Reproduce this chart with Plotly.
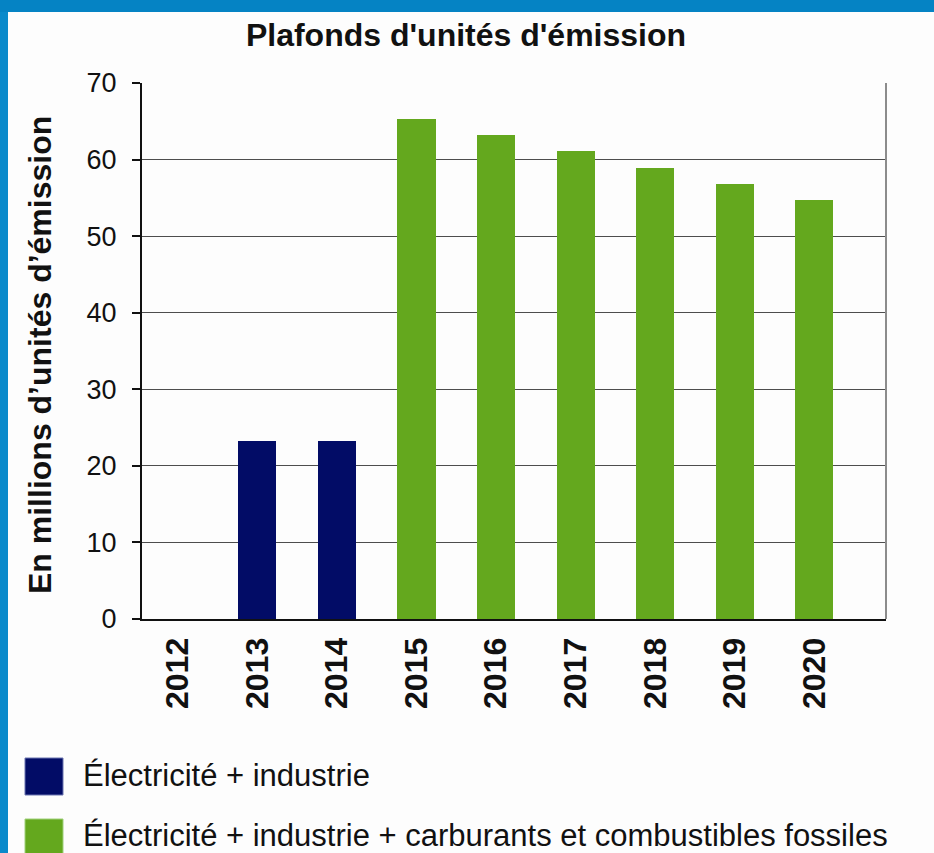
import plotly.graph_objects as go

years = [2012, 2013, 2014, 2015, 2016, 2017, 2018, 2019, 2020]
year_labels = [str(y) for y in years]
elec_industrie = [None, 23.2, 23.2, None, None, None, None, None, None]
elec_industrie_carb = [None, None, None, 65.3, 63.19, 61.08, 58.96, 56.85, 54.74]
series_names = ["Électricité + industrie",
                "Électricité + industrie + carburants et combustibles fossiles"]
y_ticks = [0, 10, 20, 30, 40, 50, 60, 70]

NAVY = "#020c66"
GREEN = "#64a81e"
FONT = "Liberation Sans, Arial, sans-serif"
TXT = "#111111"

W, H = 934, 853
L, R, T, B = 142, 48, 83, 234
pw, ph = W - L - R, H - T - B

def px(x):
    return (x - L) / pw

def py(y):
    return (H - B - y) / ph

fig = go.Figure()
fig.add_trace(go.Bar(x=years, y=elec_industrie, name=series_names[0],
                     marker=dict(color=NAVY, line=dict(width=0)), width=0.48,
                     showlegend=False))
fig.add_trace(go.Bar(x=years, y=elec_industrie_carb, name=series_names[1],
                     marker=dict(color=GREEN, line=dict(width=0)), width=0.48,
                     showlegend=False))

shapes = []
# blue frame
shapes.append(dict(type="rect", xref="paper", yref="paper", x0=px(0), x1=px(8), y0=py(H), y1=py(0),
                   fillcolor="#0a8acb", line=dict(width=0), layer="below"))
shapes.append(dict(type="rect", xref="paper", yref="paper", x0=px(0), x1=px(W), y0=py(12), y1=py(0),
                   fillcolor="#0583c4", line=dict(width=0), layer="below"))
# right border of plot
shapes.append(dict(type="line", xref="paper", yref="paper", x0=1, x1=1, y0=0, y1=1,
                   line=dict(color="#8c8c8c", width=2)))
# legend swatches
shapes.append(dict(type="rect", xref="paper", yref="paper", x0=px(25), x1=px(63), y0=py(795), y1=py(758),
                   fillcolor=NAVY, line=dict(color="#6a74b0", width=1)))
shapes.append(dict(type="rect", xref="paper", yref="paper", x0=px(25), x1=px(63), y0=py(857), y1=py(819),
                   fillcolor=GREEN, line=dict(color="#9fd07a", width=1)))

annotations = [
    dict(text=series_names[0], xref="paper", yref="paper", x=px(81), y=py(776),
         xanchor="left", yanchor="middle", showarrow=False,
         font=dict(family=FONT, size=31, color=TXT)),
    dict(text=series_names[1], xref="paper", yref="paper", x=px(81), y=py(835),
         xanchor="left", yanchor="middle", showarrow=False,
         font=dict(family=FONT, size=31, color=TXT)),
    dict(text="<b>En millions d’unités d’émission</b>", xref="paper", yref="paper",
         x=px(40), y=py(355), xanchor="center", yanchor="middle", textangle=-90,
         showarrow=False, font=dict(family=FONT, size=32, color=TXT)),
]

fig.update_layout(
    width=W, height=H,
    margin=dict(l=L, r=R, t=T, b=B),
    paper_bgcolor="#fdfdfd", plot_bgcolor="#fdfdfd",
    barmode="overlay",
    bargap=0,
    title=dict(text="<b>Plafonds d'unités d'émission</b>", x=466 / W, xref="container",
               xanchor="center", y=1 - 35 / H, yref="container", yanchor="middle",
               font=dict(family=FONT, size=32, color=TXT)),
    shapes=shapes,
    annotations=annotations,
    showlegend=False,
)
fig.update_xaxes(
    range=[2011.55, 2020.9], tickmode="array", tickvals=years,
    ticktext=["<b>%s</b>" % t for t in year_labels], tickangle=-90,
    tickfont=dict(family=FONT, size=32, color=TXT),
    showgrid=False, zeroline=False, showline=True, linecolor=TXT, linewidth=2,
    ticks="", ticklabelstandoff=4,
)
fig.update_yaxes(
    range=[0, 70], tickmode="array", tickvals=y_ticks,
    tickfont=dict(family=FONT, size=27, color=TXT),
    showgrid=True, gridcolor="#4d4d4d", gridwidth=1,
    zeroline=False, showline=True, linecolor=TXT, linewidth=2,
    ticks="outside", ticklen=8, tickcolor=TXT, tickwidth=2,
    ticklabelstandoff=10,
)

fig.write_html("out.html", config={"displayModeBar": False},
               post_script="document.body.style.margin='0';document.body.style.overflow='hidden';")
